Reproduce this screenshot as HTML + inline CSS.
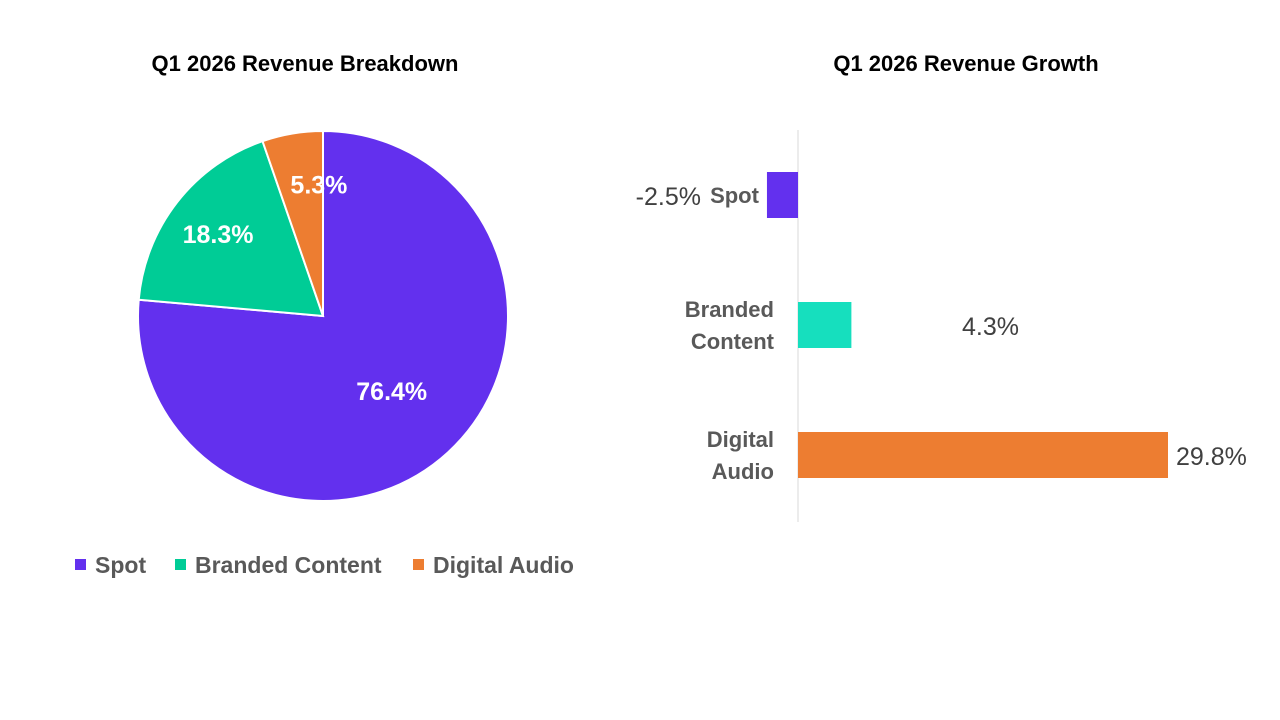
<!DOCTYPE html>
<html><head><meta charset="utf-8"><style>
body{margin:0;width:1280px;height:720px;background:#fff;overflow:hidden;font-family:"Liberation Sans",sans-serif}
svg{display:block}
</style></head><body>
<svg id="c" width="1280" height="720">
<text x="305" y="71" text-anchor="middle" font-size="22" font-weight="bold" fill="#000">Q1 2026 Revenue Breakdown</text>
<text x="966" y="71" text-anchor="middle" font-size="22" font-weight="bold" fill="#000">Q1 2026 Revenue Growth</text>
<g id="pie"></g>
<g id="bars"></g>
<g id="legend"></g>
</svg>
<script>
const categories=["Spot","Branded Content","Digital Audio"];
const shares=[76.4,18.3,5.3];
const growth=[-2.5,4.3,29.8];
const pieColors=["#6330EE","#00CC96","#ED7D31"];
const barColors=["#6330EE","#16DFBE","#ED7D31"];
const NS="http://www.w3.org/2000/svg";
function mk(t,a,p){const e=document.createElementNS(NS,t);for(const k in a)e.setAttribute(k,a[k]);p.appendChild(e);return e;}
// pie
const pie=document.getElementById('pie');
const cx=323,cy=316,R=185;
const total=shares.reduce((a,b)=>a+b,0);
let acc=0;
shares.forEach((v,i)=>{
  const a0=acc/total*2*Math.PI;acc+=v;const a1=acc/total*2*Math.PI;
  const x0=cx+R*Math.sin(a0),y0=cy-R*Math.cos(a0),x1=cx+R*Math.sin(a1),y1=cy-R*Math.cos(a1);
  const large=(a1-a0)>Math.PI?1:0;
  const p=mk('path',{d:`M${cx},${cy}L${x0},${y0}A${R},${R} 0 ${large} 1 ${x1},${y1}Z`,fill:pieColors[i],stroke:'#fff','stroke-width':2},pie);
  
  
  const am=(a0+a1)/2,r=i==0?0.55*R:0.72*R;
  const t=mk('text',{x:cx+r*Math.sin(am)+(i==2?18:0),y:cy-r*Math.cos(am)+9,'text-anchor':'middle','font-size':25,'font-weight':'bold',fill:'#fff'},pie);
  t.textContent=v.toFixed(1)+'%';
  
  
});
// bars
const bars=document.getElementById('bars');
const x0=798,pxPer=370/29.8;
function xs(v){return x0+v*pxPer;}
const bandTop=130,band=130,bh=46;
const ax=mk('line',{x1:x0,y1:130,x2:x0,y2:522,stroke:'#d9d9d9','stroke-width':1},bars);


const catLines=[["Spot"],["Branded","Content"],["Digital","Audio"]];
growth.forEach((v,i)=>{
  const yc=bandTop+band*i+band/2;
  const xa=Math.min(xs(v),xs(0)),w=Math.abs(xs(v)-xs(0));
  const r=mk('rect',{x:xa,y:yc-bh/2,width:w,height:bh,fill:barColors[i]},bars);
  
  
  const lines=catLines[i];
  const labX=Math.min(774,xa-8);
  lines.forEach((s,j)=>{
    const t=mk('text',{x:labX,y:yc+8+(j-(lines.length-1)/2)*32,'text-anchor':'end','font-size':22,'font-weight':'bold',fill:'#595959'},bars);
    t.textContent=s;
    
    
  });
  const vx=v<0?labX-58:(i==1?962:xs(v)+8);
  const vt=mk('text',{x:vx,y:yc+10,'text-anchor':v<0?'end':'start','font-size':25,fill:'#404040'},bars);
  vt.textContent=v.toFixed(1)+'%';
  
  
});
// legend
const lg=document.getElementById('legend');
const lx=[75,175,413];
categories.forEach((c,i)=>{
  const g=mk('g',{},lg);
  
  
  mk('rect',{x:lx[i],y:559,width:11,height:11,fill:pieColors[i]},g);
  const t=mk('text',{x:lx[i]+20,y:573,'font-size':23,'font-weight':'bold',fill:'#595959'},g);
  t.textContent=c;
});
</script>
</body></html>
